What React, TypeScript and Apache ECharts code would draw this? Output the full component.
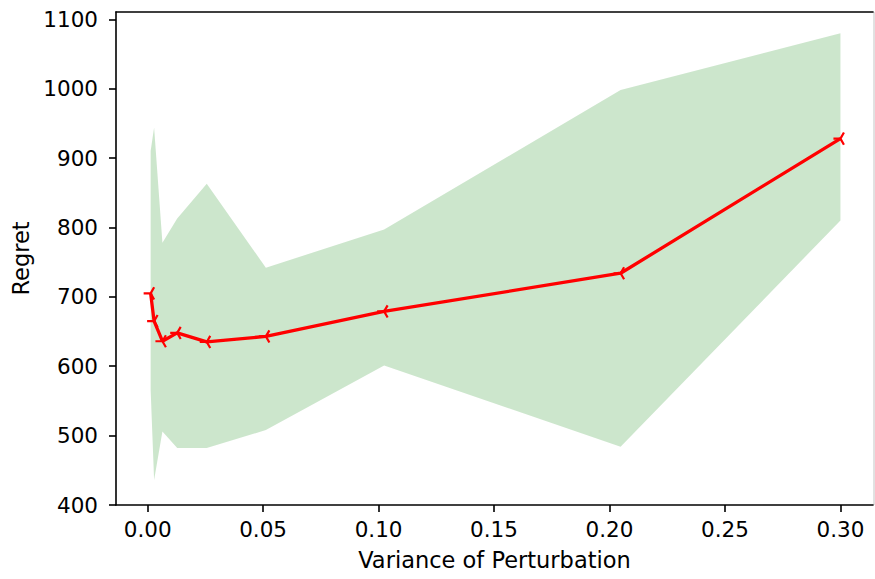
import React, { useEffect, useRef } from "react";
import * as echarts from "echarts";

const X_VALUES = [0.0013, 0.0028, 0.0064, 0.0128, 0.0256, 0.0512, 0.1024, 0.2048, 0.3];
const MEAN_REGRET = [705, 665, 636, 648, 635, 643, 679, 734, 928];
const UPPER_REGRET = [910, 944, 778, 813, 863, 742, 797, 998, 1080];
const LOWER_REGRET = [566, 436, 506, 482, 482, 508, 601, 484, 810];
const X_TICKS = [0, 0.05, 0.1, 0.15, 0.2, 0.25, 0.3];
const Y_TICKS = [400, 500, 600, 700, 800, 900, 1000, 1100];

const FONT = "DejaVu Sans";
const TICK_FONT = 21.5;
const NAME_FONT = 22.5;
const TRI_LEFT = "path://M-1,0L0,0M0,0L0.5,-0.866M0,0L0.5,0.866M1,0";

export default function App() {
  const ref = useRef<HTMLDivElement>(null);
  useEffect(() => {
    if (!ref.current) return;
    const chart = echarts.init(ref.current, undefined, { renderer: "svg" });
    const xMin = -0.0137;
    const xMax = 0.3141;
    chart.setOption({
      animation: false,
      backgroundColor: "#fff",
      textStyle: { fontFamily: FONT },
      grid: { left: 116, right: 2, top: 12, bottom: 74 },
      xAxis: [
        {
          type: "value",
          min: xMin,
          max: xMax,
          name: "Variance of Perturbation",
          nameLocation: "middle",
          nameGap: 43,
          nameTextStyle: { fontFamily: FONT, fontSize: NAME_FONT, color: "#000" },
          axisLine: { show: true, onZero: false, lineStyle: { color: "#000", width: 1.6 } },
          axisTick: { show: true, length: 7, lineStyle: { color: "#000", width: 1.6 }, customValues: X_TICKS },
          axisLabel: {
            fontFamily: FONT,
            fontSize: TICK_FONT,
            color: "#000",
            margin: 13,
            customValues: X_TICKS,
            formatter: (v: number) => v.toFixed(2),
          },
          splitLine: { show: false },
        },
        {
          type: "value",
          position: "top",
          min: xMin,
          max: xMax,
          axisLine: { show: true, onZero: false, lineStyle: { color: "#000", width: 1.6 } },
          axisTick: { show: false },
          axisLabel: { show: false },
          splitLine: { show: false },
        },
      ],
      yAxis: {
        type: "value",
        min: 400,
        max: 1110.5,
        name: "Regret",
        nameLocation: "middle",
        nameGap: 84,
        nameTextStyle: { fontFamily: FONT, fontSize: NAME_FONT, color: "#000" },
        axisLine: { show: true, onZero: false, lineStyle: { color: "#000", width: 1.6 } },
        axisTick: { show: true, length: 7, lineStyle: { color: "#000", width: 1.6 }, customValues: Y_TICKS },
        axisLabel: {
          fontFamily: FONT,
          fontSize: TICK_FONT,
          color: "#000",
          margin: 18,
          customValues: Y_TICKS,
          formatter: (v: number) => String(v),
        },
        splitLine: { show: false },
      },
      graphic: [
        {
          type: "line",
          shape: { x1: 874, y1: 12, x2: 874, y2: 505 },
          style: { stroke: "#c4c4c4", lineWidth: 1 },
        },
      ],
      series: [
        {
          type: "custom",
          z: 1,
          silent: true,
          data: X_VALUES.map((x, i) => [x, UPPER_REGRET[i]]),
          renderItem: (params: any, api: any) => {
            if (params.dataIndex !== 0) return null;
            const pts: number[][] = [];
            for (let i = 0; i < X_VALUES.length; i++) pts.push(api.coord([X_VALUES[i], UPPER_REGRET[i]]));
            for (let i = X_VALUES.length - 1; i >= 0; i--) pts.push(api.coord([X_VALUES[i], LOWER_REGRET[i]]));
            return {
              type: "polygon",
              shape: { points: pts },
              style: { fill: "rgba(0,128,0,0.2)", stroke: "none" },
            };
          },
        },
        {
          type: "line",
          z: 3,
          data: X_VALUES.map((x, i) => [x, MEAN_REGRET[i]]),
          lineStyle: { color: "#ff0000", width: 3.3 },
          symbol: TRI_LEFT,
          symbolSize: 14,
          symbolKeepAspect: true,
          showAllSymbol: true,
          itemStyle: { color: "rgba(0,0,0,0)", borderColor: "#ff0000", borderWidth: 2.2 },
        },
      ],
    });
    return () => chart.dispose();
  }, []);
  return (
    <div
      ref={ref}
      style={{ position: "fixed", left: 0, top: 0, width: 875, height: 579 }}
    />
  );
}
